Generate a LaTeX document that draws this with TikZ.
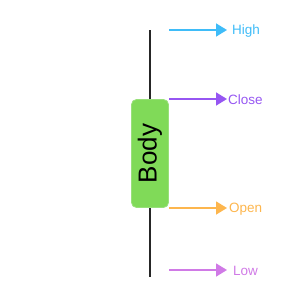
\documentclass[tikz,border=0pt]{standalone}
\usepackage{fontspec}
\setmainfont{Liberation Sans}
\usetikzlibrary{arrows.meta,positioning}
\definecolor{bodygreen}{HTML}{80DA58}
\definecolor{bodyedge}{HTML}{98E07A}
\definecolor{highblue}{HTML}{3FBCF8}
\definecolor{closepurple}{HTML}{9656F2}
\definecolor{openorange}{HTML}{FDB64E}
\definecolor{lowviolet}{HTML}{D07AE6}
\tikzset{
  wick/.style={line width=1.8pt, draw=black!85},
  candle/.style={fill=bodygreen, draw=bodyedge, line width=0.8pt, rounded corners=5pt, minimum width=37pt, minimum height=108pt, inner sep=0pt},
  pointer/.style={-{Triangle[length=11pt, width=13pt]}, line width=1.6pt},
  tag/.style={font=\fontsize{13.5}{15}\selectfont, anchor=west, inner sep=1pt}
}
\begin{document}
\begin{tikzpicture}[x=1pt, y=-1pt]
  \useasboundingbox (0,0) rectangle (300,300);
  \coordinate (top) at (150,30);
  \coordinate (bottom) at (150,277);
  \draw[wick] (top) -- (bottom);
  \node[candle] (body) at (150,153.5) {};
  \node[rotate=90, font=\fontsize{26}{30}\selectfont] (bodytext) at (body.center) {Body};

  % arrow start and end points
  \coordinate (h0) at (169,30);
  \coordinate (h1) at (227,30);
  \coordinate (c0) at (169,99);
  \coordinate (c1) at (227,99);
  \coordinate (o0) at (169,208);
  \coordinate (o1) at (227,208);
  \coordinate (l0) at (169,270);
  \coordinate (l1) at (227,270);
  \node[tag, text=highblue] (high) at (231,31) {High};
  \node[tag, text=closepurple] (close) at (227,99.5) {Close};
  \node[tag, text=openorange] (open) at (228,209) {Open};
  \node[tag, text=lowviolet] (low) at (232,270.5) {Low};

  \draw[pointer, highblue] (h0) -- (h1);
  \draw[pointer, closepurple] (c0) -- (c1);
  \draw[pointer, openorange] (o0) -- (o1);
  \draw[pointer, lowviolet] (l0) -- (l1);
\end{tikzpicture}
\end{document}
